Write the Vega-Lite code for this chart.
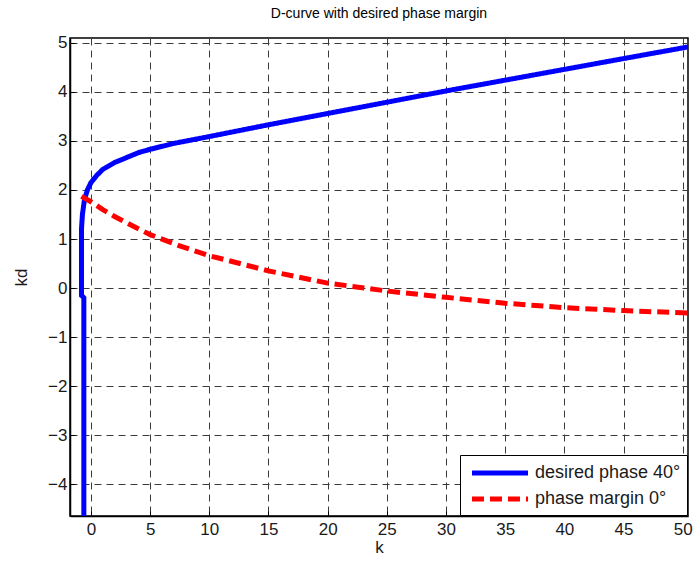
{
  "$schema": "https://vega.github.io/schema/vega-lite/v6.json",
  "autosize": {"type": "none"},
  "width": 618,
  "height": 478,
  "padding": {"left": 70, "top": 38, "right": 5, "bottom": 51},
  "background": "white",
  "title": {"text": "D-curve with desired phase margin", "font": "Liberation Sans", "fontSize": 14, "fontWeight": "normal", "color": "#000000", "offset": 13},
  "config": {
    "view": {"stroke": "#000000", "strokeWidth": 1.5},
    "axis": {"domainColor": "#000000", "domainWidth": 1.5, "tickColor": "#000000", "gridColor": "#3a3a3a", "gridDash": [7, 5], "gridOpacity": 1, "gridWidth": 1, "tickSize": -5}
  },
  "data": {"values": [
    {"s": "desired phase 40°", "i": 1, "k": -0.6, "kd": -4.7},
    {"s": "desired phase 40°", "i": 2, "k": -0.6, "kd": -0.2},
    {"s": "desired phase 40°", "i": 3, "k": -0.8, "kd": -0.15},
    {"s": "desired phase 40°", "i": 4, "k": -0.8, "kd": 1.2},
    {"s": "desired phase 40°", "i": 5, "k": -0.72, "kd": 1.5},
    {"s": "desired phase 40°", "i": 6, "k": -0.55, "kd": 1.8},
    {"s": "desired phase 40°", "i": 7, "k": -0.3, "kd": 2.0},
    {"s": "desired phase 40°", "i": 8, "k": 0.0, "kd": 2.15},
    {"s": "desired phase 40°", "i": 9, "k": 0.5, "kd": 2.3},
    {"s": "desired phase 40°", "i": 10, "k": 1.0, "kd": 2.42},
    {"s": "desired phase 40°", "i": 11, "k": 2.0, "kd": 2.56},
    {"s": "desired phase 40°", "i": 12, "k": 3.0, "kd": 2.66},
    {"s": "desired phase 40°", "i": 13, "k": 4.0, "kd": 2.76},
    {"s": "desired phase 40°", "i": 14, "k": 5.0, "kd": 2.83},
    {"s": "desired phase 40°", "i": 15, "k": 7.0, "kd": 2.95},
    {"s": "desired phase 40°", "i": 16, "k": 10.0, "kd": 3.09},
    {"s": "desired phase 40°", "i": 17, "k": 15.0, "kd": 3.33},
    {"s": "desired phase 40°", "i": 18, "k": 20.0, "kd": 3.56},
    {"s": "desired phase 40°", "i": 19, "k": 25.0, "kd": 3.79},
    {"s": "desired phase 40°", "i": 20, "k": 30.0, "kd": 4.02},
    {"s": "desired phase 40°", "i": 21, "k": 35.0, "kd": 4.24},
    {"s": "desired phase 40°", "i": 22, "k": 40.0, "kd": 4.46},
    {"s": "desired phase 40°", "i": 23, "k": 45.0, "kd": 4.68},
    {"s": "desired phase 40°", "i": 24, "k": 50.5, "kd": 4.92},
    {"s": "phase margin 0°", "i": 1, "k": -0.8, "kd": 1.87},
    {"s": "phase margin 0°", "i": 2, "k": 0.0, "kd": 1.76},
    {"s": "phase margin 0°", "i": 3, "k": 1.0, "kd": 1.6},
    {"s": "phase margin 0°", "i": 4, "k": 2.0, "kd": 1.46},
    {"s": "phase margin 0°", "i": 5, "k": 3.5, "kd": 1.27},
    {"s": "phase margin 0°", "i": 6, "k": 5.0, "kd": 1.09},
    {"s": "phase margin 0°", "i": 7, "k": 7.5, "kd": 0.86},
    {"s": "phase margin 0°", "i": 8, "k": 10.0, "kd": 0.66},
    {"s": "phase margin 0°", "i": 9, "k": 15.0, "kd": 0.35},
    {"s": "phase margin 0°", "i": 10, "k": 20.0, "kd": 0.1},
    {"s": "phase margin 0°", "i": 11, "k": 25.0, "kd": -0.06},
    {"s": "phase margin 0°", "i": 12, "k": 30.0, "kd": -0.19},
    {"s": "phase margin 0°", "i": 13, "k": 35.0, "kd": -0.31},
    {"s": "phase margin 0°", "i": 14, "k": 40.0, "kd": -0.4},
    {"s": "phase margin 0°", "i": 15, "k": 45.0, "kd": -0.46},
    {"s": "phase margin 0°", "i": 16, "k": 50.5, "kd": -0.51}
  ]},
  "mark": {"type": "line", "strokeWidth": 5, "clip": true, "strokeCap": "butt"},
  "encoding": {
    "x": {"field": "k", "type": "quantitative", "scale": {"domain": [-1.77, 50.45], "nice": false, "zero": false},
      "axis": {"values": [0, 5, 10, 15, 20, 25, 30, 35, 40, 45, 50], "title": "k", "titlePadding": 2, "labelFont": "Liberation Sans", "titleFont": "Liberation Sans", "labelFontSize": 17, "titleFontSize": 17, "titleFontWeight": "normal", "labelColor": "#1a1a1a", "titleColor": "#1a1a1a", "labelPadding": 10}},
    "y": {"field": "kd", "type": "quantitative", "scale": {"domain": [-4.65, 5.1], "nice": false, "zero": false},
      "axis": {"values": [-4, -3, -2, -1, 0, 1, 2, 3, 4, 5], "title": "kd", "titlePadding": 17, "labelFont": "Liberation Sans", "titleFont": "Liberation Sans", "labelFontSize": 17, "titleFontSize": 17, "titleFontWeight": "normal", "labelColor": "#1a1a1a", "titleColor": "#1a1a1a", "labelPadding": 8}},
    "order": {"field": "i", "type": "quantitative"},
    "color": {"field": "s", "type": "nominal", "title": null,
      "scale": {"domain": ["desired phase 40°", "phase margin 0°"], "range": ["#0000FF", "#FF0000"]},
      "legend": {"orient": "bottom-right", "offset": 1, "fillColor": "white", "strokeColor": "#000000", "padding": 6, "symbolType": "M-3,0H3", "symbolSize": 349, "symbolStrokeWidth": 5, "symbolOffset": 22, "labelFont": "Liberation Sans", "labelFontSize": 18, "labelColor": "#1a1a1a", "rowPadding": 4, "labelOffset": 23, "labelLimit": 300}},
    "strokeDash": {"field": "s", "type": "nominal", "title": null,
      "scale": {"domain": ["desired phase 40°", "phase margin 0°"], "range": [[1, 0], [12, 6]]}}
  }
}
